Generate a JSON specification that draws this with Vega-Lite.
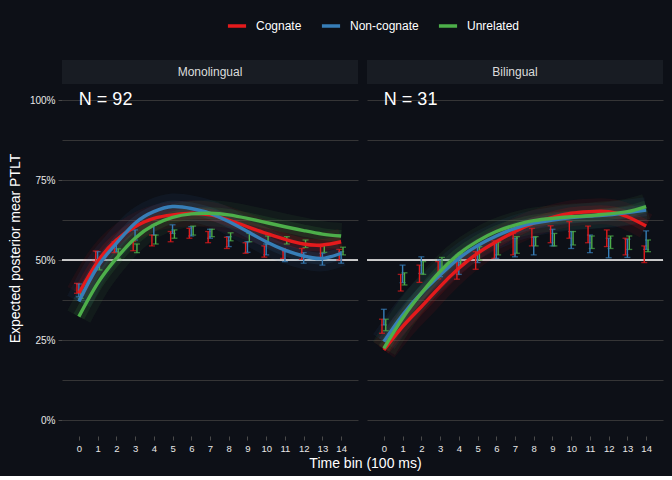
{
  "$schema": "https://vega.github.io/schema/vega-lite/v6.json",
  "background": "#0d1017",
  "padding": {"left": 8, "top": 15, "right": 5, "bottom": 5},
  "bounds": "flush",
  "spacing": 9,
  "datasets": {
    "rows": [
      {"k":"panel","group":"Monolingual","n":"N = 92"},
      {"k":"panel","group":"Bilingual","n":"N = 31"},
      {"k":"pt","group":"Monolingual","cond":"Cognate","t":0,"m":39.6,"lo":39.6,"hi":42.7},
      {"k":"pt","group":"Monolingual","cond":"Cognate","t":1,"m":49.5,"lo":49.5,"hi":52.8},
      {"k":"pt","group":"Monolingual","cond":"Cognate","t":2,"m":56.25,"lo":52.3,"hi":55.7},
      {"k":"pt","group":"Monolingual","cond":"Cognate","t":3,"m":60.4,"lo":52.9,"hi":55.9},
      {"k":"pt","group":"Monolingual","cond":"Cognate","t":4,"m":63.0,"lo":54.4,"hi":57.8},
      {"k":"pt","group":"Monolingual","cond":"Cognate","t":5,"m":64.1,"lo":55.7,"hi":58.9},
      {"k":"pt","group":"Monolingual","cond":"Cognate","t":6,"m":64.6,"lo":56.8,"hi":59.9},
      {"k":"pt","group":"Monolingual","cond":"Cognate","t":7,"m":64.1,"lo":55.4,"hi":58.9},
      {"k":"pt","group":"Monolingual","cond":"Cognate","t":8,"m":62.5,"lo":53.6,"hi":57.1},
      {"k":"pt","group":"Monolingual","cond":"Cognate","t":9,"m":60.4,"lo":52.1,"hi":55.4},
      {"k":"pt","group":"Monolingual","cond":"Cognate","t":10,"m":58.3,"lo":50.9,"hi":54.4},
      {"k":"pt","group":"Monolingual","cond":"Cognate","t":11,"m":56.5,"lo":50.5,"hi":53.6},
      {"k":"pt","group":"Monolingual","cond":"Cognate","t":12,"m":55.0,"lo":50.2,"hi":53.6},
      {"k":"pt","group":"Monolingual","cond":"Cognate","t":13,"m":54.7,"lo":50.8,"hi":54.2},
      {"k":"pt","group":"Monolingual","cond":"Cognate","t":14,"m":55.7,"lo":50.0,"hi":53.3},
      {"k":"pt","group":"Monolingual","cond":"Non-cognate","t":0,"m":37.0,"lo":38.5,"hi":42.5},
      {"k":"pt","group":"Monolingual","cond":"Non-cognate","t":1,"m":47.9,"lo":49.5,"hi":52.6},
      {"k":"pt","group":"Monolingual","cond":"Non-cognate","t":2,"m":55.2,"lo":52.6,"hi":55.7},
      {"k":"pt","group":"Monolingual","cond":"Non-cognate","t":3,"m":61.5,"lo":56.25,"hi":59.4},
      {"k":"pt","group":"Monolingual","cond":"Non-cognate","t":4,"m":65.1,"lo":57.8,"hi":60.9},
      {"k":"pt","group":"Monolingual","cond":"Non-cognate","t":5,"m":66.7,"lo":58.3,"hi":61.0},
      {"k":"pt","group":"Monolingual","cond":"Non-cognate","t":6,"m":66.1,"lo":57.5,"hi":60.4},
      {"k":"pt","group":"Monolingual","cond":"Non-cognate","t":7,"m":64.6,"lo":56.8,"hi":59.6},
      {"k":"pt","group":"Monolingual","cond":"Non-cognate","t":8,"m":62.0,"lo":54.2,"hi":57.3},
      {"k":"pt","group":"Monolingual","cond":"Non-cognate","t":9,"m":58.9,"lo":52.4,"hi":55.7},
      {"k":"pt","group":"Monolingual","cond":"Non-cognate","t":10,"m":55.7,"lo":51.6,"hi":55.0},
      {"k":"pt","group":"Monolingual","cond":"Non-cognate","t":11,"m":53.1,"lo":49.5,"hi":52.6},
      {"k":"pt","group":"Monolingual","cond":"Non-cognate","t":12,"m":51.25,"lo":49.0,"hi":52.3},
      {"k":"pt","group":"Monolingual","cond":"Non-cognate","t":13,"m":50.5,"lo":48.4,"hi":52.1},
      {"k":"pt","group":"Monolingual","cond":"Non-cognate","t":14,"m":52.1,"lo":49.0,"hi":52.6},
      {"k":"pt","group":"Monolingual","cond":"Unrelated","t":0,"m":32.3,"lo":38.0,"hi":40.6},
      {"k":"pt","group":"Monolingual","cond":"Unrelated","t":1,"m":42.7,"lo":46.9,"hi":49.5},
      {"k":"pt","group":"Monolingual","cond":"Unrelated","t":2,"m":50.5,"lo":50.5,"hi":53.5},
      {"k":"pt","group":"Monolingual","cond":"Unrelated","t":3,"m":56.8,"lo":52.3,"hi":55.0},
      {"k":"pt","group":"Monolingual","cond":"Unrelated","t":4,"m":60.9,"lo":55.0,"hi":57.8},
      {"k":"pt","group":"Monolingual","cond":"Unrelated","t":5,"m":63.3,"lo":56.8,"hi":59.4},
      {"k":"pt","group":"Monolingual","cond":"Unrelated","t":6,"m":64.4,"lo":57.8,"hi":60.6},
      {"k":"pt","group":"Monolingual","cond":"Unrelated","t":7,"m":64.6,"lo":57.3,"hi":59.6},
      {"k":"pt","group":"Monolingual","cond":"Unrelated","t":8,"m":64.1,"lo":56.0,"hi":58.5},
      {"k":"pt","group":"Monolingual","cond":"Unrelated","t":9,"m":63.0,"lo":55.7,"hi":58.3},
      {"k":"pt","group":"Monolingual","cond":"Unrelated","t":10,"m":61.7,"lo":55.0,"hi":57.5},
      {"k":"pt","group":"Monolingual","cond":"Unrelated","t":11,"m":60.4,"lo":55.0,"hi":57.3},
      {"k":"pt","group":"Monolingual","cond":"Unrelated","t":12,"m":59.2,"lo":53.9,"hi":56.25},
      {"k":"pt","group":"Monolingual","cond":"Unrelated","t":13,"m":58.1,"lo":52.4,"hi":54.7},
      {"k":"pt","group":"Monolingual","cond":"Unrelated","t":14,"m":57.5,"lo":51.6,"hi":54.0},
      {"k":"pt","group":"Bilingual","cond":"Cognate","t":0,"m":21.9,"lo":27.1,"hi":31.5},
      {"k":"pt","group":"Bilingual","cond":"Cognate","t":1,"m":29.2,"lo":40.3,"hi":45.5},
      {"k":"pt","group":"Bilingual","cond":"Cognate","t":2,"m":35.4,"lo":43.0,"hi":48.4},
      {"k":"pt","group":"Bilingual","cond":"Cognate","t":3,"m":41.7,"lo":44.1,"hi":49.5},
      {"k":"pt","group":"Bilingual","cond":"Cognate","t":4,"m":47.4,"lo":44.0,"hi":49.2},
      {"k":"pt","group":"Bilingual","cond":"Cognate","t":5,"m":52.1,"lo":47.1,"hi":52.6},
      {"k":"pt","group":"Bilingual","cond":"Cognate","t":6,"m":55.7,"lo":50.5,"hi":56.0},
      {"k":"pt","group":"Bilingual","cond":"Cognate","t":7,"m":58.9,"lo":51.6,"hi":58.3},
      {"k":"pt","group":"Bilingual","cond":"Cognate","t":8,"m":61.5,"lo":54.4,"hi":59.9},
      {"k":"pt","group":"Bilingual","cond":"Cognate","t":9,"m":63.3,"lo":55.4,"hi":60.7},
      {"k":"pt","group":"Bilingual","cond":"Cognate","t":10,"m":64.6,"lo":56.8,"hi":62.0},
      {"k":"pt","group":"Bilingual","cond":"Cognate","t":11,"m":65.1,"lo":55.4,"hi":60.6},
      {"k":"pt","group":"Bilingual","cond":"Cognate","t":12,"m":65.1,"lo":54.2,"hi":59.4},
      {"k":"pt","group":"Bilingual","cond":"Cognate","t":13,"m":63.5,"lo":51.6,"hi":56.8},
      {"k":"pt","group":"Bilingual","cond":"Cognate","t":14,"m":60.6,"lo":49.2,"hi":54.4},
      {"k":"pt","group":"Bilingual","cond":"Non-cognate","t":0,"m":24.5,"lo":29.7,"hi":34.6},
      {"k":"pt","group":"Bilingual","cond":"Non-cognate","t":1,"m":32.8,"lo":42.9,"hi":48.4},
      {"k":"pt","group":"Bilingual","cond":"Non-cognate","t":2,"m":39.6,"lo":45.8,"hi":51.0},
      {"k":"pt","group":"Bilingual","cond":"Non-cognate","t":3,"m":45.3,"lo":44.8,"hi":50.0},
      {"k":"pt","group":"Bilingual","cond":"Non-cognate","t":4,"m":50.5,"lo":45.5,"hi":51.6},
      {"k":"pt","group":"Bilingual","cond":"Non-cognate","t":5,"m":54.5,"lo":49.2,"hi":54.0},
      {"k":"pt","group":"Bilingual","cond":"Non-cognate","t":6,"m":57.5,"lo":50.5,"hi":55.7},
      {"k":"pt","group":"Bilingual","cond":"Non-cognate","t":7,"m":59.9,"lo":51.0,"hi":56.8},
      {"k":"pt","group":"Bilingual","cond":"Non-cognate","t":8,"m":61.5,"lo":51.6,"hi":57.1},
      {"k":"pt","group":"Bilingual","cond":"Non-cognate","t":9,"m":62.5,"lo":54.4,"hi":59.6},
      {"k":"pt","group":"Bilingual","cond":"Non-cognate","t":10,"m":63.3,"lo":53.6,"hi":58.9},
      {"k":"pt","group":"Bilingual","cond":"Non-cognate","t":11,"m":63.75,"lo":52.3,"hi":57.8},
      {"k":"pt","group":"Bilingual","cond":"Non-cognate","t":12,"m":64.1,"lo":50.7,"hi":56.8},
      {"k":"pt","group":"Bilingual","cond":"Non-cognate","t":13,"m":64.8,"lo":50.8,"hi":56.5},
      {"k":"pt","group":"Bilingual","cond":"Non-cognate","t":14,"m":65.6,"lo":53.3,"hi":59.1},
      {"k":"pt","group":"Bilingual","cond":"Unrelated","t":0,"m":22.4,"lo":27.9,"hi":31.5},
      {"k":"pt","group":"Bilingual","cond":"Unrelated","t":1,"m":31.8,"lo":42.2,"hi":46.0},
      {"k":"pt","group":"Bilingual","cond":"Unrelated","t":2,"m":39.6,"lo":45.5,"hi":49.5},
      {"k":"pt","group":"Bilingual","cond":"Unrelated","t":3,"m":46.4,"lo":46.9,"hi":50.8},
      {"k":"pt","group":"Bilingual","cond":"Unrelated","t":4,"m":51.9,"lo":48.4,"hi":52.1},
      {"k":"pt","group":"Bilingual","cond":"Unrelated","t":5,"m":55.9,"lo":50.0,"hi":54.2},
      {"k":"pt","group":"Bilingual","cond":"Unrelated","t":6,"m":58.9,"lo":51.6,"hi":55.6},
      {"k":"pt","group":"Bilingual","cond":"Unrelated","t":7,"m":60.9,"lo":52.1,"hi":57.3},
      {"k":"pt","group":"Bilingual","cond":"Unrelated","t":8,"m":62.3,"lo":54.4,"hi":57.3},
      {"k":"pt","group":"Bilingual","cond":"Unrelated","t":9,"m":63.0,"lo":54.4,"hi":58.3},
      {"k":"pt","group":"Bilingual","cond":"Unrelated","t":10,"m":63.5,"lo":54.7,"hi":58.9},
      {"k":"pt","group":"Bilingual","cond":"Unrelated","t":11,"m":63.85,"lo":53.6,"hi":57.5},
      {"k":"pt","group":"Bilingual","cond":"Unrelated","t":12,"m":64.4,"lo":53.6,"hi":57.5},
      {"k":"pt","group":"Bilingual","cond":"Unrelated","t":13,"m":65.1,"lo":53.3,"hi":57.5},
      {"k":"pt","group":"Bilingual","cond":"Unrelated","t":14,"m":66.7,"lo":52.6,"hi":56.25}
    ]
  },
  "data": {"name": "rows"},
  "resolve": {"scale": {"color": "shared"}, "legend": {"color": "shared"}},
  "hconcat": [
    {
      "width": 296,
      "height": 376,
      "transform": [{"filter": "datum.group == 'Monolingual'"}],
      "layer": [
        {
          "transform": [{"filter": "datum.k == 'panel'"}],
          "mark": {"type": "rect", "color": "#181c23"},
          "encoding": {
            "x": {"datum": -0.9, "type": "quantitative", "scale": {"domain": [-0.9, 14.9], "nice": false, "zero": false},
              "axis": {"values": [0,1,2,3,4,5,6,7,8,9,10,11,12,13,14], "tickCount": 15, "labelOverlap": false, "title": "Time bin (100 ms)", "titleX": 303, "titleAlign": "center", "titleAnchor": null, "titleFontSize": 14, "titleColor": "#ffffff", "titleFontWeight": "normal", "titlePadding": 4, "grid": false, "domain": false, "tickColor": "#4a4a4a", "tickSize": 4, "labelFontSize": 9.5, "labelColor": "#e8e8e8", "labelPadding": 3}},
            "x2": {"datum": 14.9},
            "y": {"datum": 105, "type": "quantitative", "scale": {"domain": [-5, 112.5], "nice": false, "zero": false},
              "title": "Expected posterior mear PTLT",
              "axis": {"values": [0,12.5,25,37.5,50,62.5,75,87.5,100], "labelExpr": "datum.value % 25 == 0 ? datum.value + '%' : ''", "titleFontSize": 14, "titleColor": "#ffffff", "titleFontWeight": "normal", "titlePadding": 7, "grid": true, "gridColor": "#3a3a3a", "gridWidth": 0.9, "domain": false, "tickColor": "#4a4a4a", "tickSize": 4, "tickOpacity": {"expr": "datum.value % 25 == 0 ? 1 : 0"}, "labelFontSize": 10, "labelColor": "#e8e8e8", "labelPadding": 3}},
            "y2": {"datum": 112.5}
          }
        },
        {
          "transform": [{"filter": "datum.k == 'panel'"}],
          "mark": {"type": "rule", "color": "#ffffff", "strokeWidth": 1.6},
          "encoding": {"y": {"datum": 50, "type": "quantitative"}}
        },
        {
          "transform": [{"filter": "datum.k == 'pt'"}],
          "mark": {"type": "line", "strokeWidth": 3.4, "interpolate": "natural"},
          "encoding": {
            "x": {"field": "t", "type": "quantitative", "title": "Time bin (100 ms)"},
            "y": {"field": "m", "type": "quantitative", "title": "Expected posterior mear PTLT"},
            "color": {"field": "cond", "type": "nominal",
              "scale": {"domain": ["Cognate", "Non-cognate", "Unrelated"], "range": ["#e41a1c", "#377eb8", "#4daf4a"]},
              "legend": {"orient": "none", "legendX": 164, "legendY": -45, "direction": "horizontal", "title": null, "symbolType": "stroke", "symbolStrokeWidth": 3.5, "symbolSize": 330, "symbolOpacity": 1, "labelFontSize": 12, "labelColor": "#ffffff", "columnPadding": 12, "labelOffset": 8,
                "encode": {"symbols": {"update": {"opacity": {"value": 1}, "strokeWidth": {"value": 3.5}}}}}},
            "opacity": {"value": 0}
          }
        },
        {
          "transform": [{"filter": "datum.k == 'pt'"}],
          "mark": {"type": "line", "strokeWidth": 26, "opacity": 0.075, "interpolate": "natural", "strokeCap": "butt"},
          "encoding": {
            "x": {"field": "t", "type": "quantitative", "title": "Time bin (100 ms)"},
            "y": {"field": "m", "type": "quantitative", "title": "Expected posterior mear PTLT"},
            "color": {"field": "cond", "type": "nominal"}
          }
        },
        {
          "transform": [{"filter": "datum.k == 'pt'"}],
          "mark": {"type": "line", "strokeWidth": 12, "opacity": 0.12, "interpolate": "natural", "strokeCap": "butt"},
          "encoding": {
            "x": {"field": "t", "type": "quantitative", "title": "Time bin (100 ms)"},
            "y": {"field": "m", "type": "quantitative", "title": "Expected posterior mear PTLT"},
            "color": {"field": "cond", "type": "nominal"}
          }
        },
        {
          "transform": [
            {"filter": "datum.k == 'pt'"},
            {"calculate": "datum.t + (datum.cond == 'Cognate' ? -0.1 : (datum.cond == 'Unrelated' ? 0.1 : 0))", "as": "tx"}
          ],
          "mark": {"type": "errorbar", "ticks": {"size": 6, "thickness": 1.3}, "rule": {"strokeWidth": 1.4}},
          "encoding": {
            "x": {"field": "tx", "type": "quantitative", "title": "Time bin (100 ms)"},
            "y": {"field": "lo", "type": "quantitative", "title": "Expected posterior mear PTLT"},
            "y2": {"field": "hi"},
            "color": {"field": "cond", "type": "nominal"}
          }
        },
        {
          "transform": [{"filter": "datum.k == 'pt'"}],
          "mark": {"type": "line", "strokeWidth": 3.4, "interpolate": "natural"},
          "encoding": {
            "x": {"field": "t", "type": "quantitative", "title": "Time bin (100 ms)"},
            "y": {"field": "m", "type": "quantitative", "title": "Expected posterior mear PTLT"},
            "color": {"field": "cond", "type": "nominal"}
          }
        },
        {
          "transform": [{"filter": "datum.k == 'panel'"}],
          "mark": {"type": "text", "fontSize": 12, "color": "#dcdcdc"},
          "encoding": {
            "x": {"datum": 7, "type": "quantitative"},
            "y": {"datum": 108.75, "type": "quantitative"},
            "text": {"field": "group"}
          }
        },
        {
          "transform": [{"filter": "datum.k == 'panel'"}],
          "mark": {"type": "text", "fontSize": 18, "color": "#ffffff", "align": "left", "baseline": "middle"},
          "encoding": {
            "x": {"datum": 0, "type": "quantitative"},
            "y": {"datum": 100, "type": "quantitative"},
            "text": {"field": "n"}
          }
        }
      ]
    },
    {
      "width": 296,
      "height": 376,
      "transform": [{"filter": "datum.group == 'Bilingual'"}],
      "layer": [
        {
          "transform": [{"filter": "datum.k == 'panel'"}],
          "mark": {"type": "rect", "color": "#181c23"},
          "encoding": {
            "x": {"datum": -0.9, "type": "quantitative", "scale": {"domain": [-0.9, 14.9], "nice": false, "zero": false},
              "axis": {"values": [0,1,2,3,4,5,6,7,8,9,10,11,12,13,14], "tickCount": 15, "labelOverlap": false, "title": null, "grid": false, "domain": false, "tickColor": "#4a4a4a", "tickSize": 4, "labelFontSize": 9.5, "labelColor": "#e8e8e8", "labelPadding": 3}},
            "x2": {"datum": 14.9},
            "y": {"datum": 105, "type": "quantitative", "scale": {"domain": [-5, 112.5], "nice": false, "zero": false},
              "axis": {"values": [0,12.5,25,37.5,50,62.5,75,87.5,100], "title": null, "labels": false, "ticks": false, "grid": true, "gridColor": "#3a3a3a", "gridWidth": 0.9, "domain": false}},
            "y2": {"datum": 112.5}
          }
        },
        {
          "transform": [{"filter": "datum.k == 'panel'"}],
          "mark": {"type": "rule", "color": "#ffffff", "strokeWidth": 1.6},
          "encoding": {"y": {"datum": 50, "type": "quantitative"}}
        },
        {
          "transform": [{"filter": "datum.k == 'pt'"}],
          "mark": {"type": "line", "strokeWidth": 26, "opacity": 0.075, "interpolate": "natural", "strokeCap": "butt"},
          "encoding": {
            "x": {"field": "t", "type": "quantitative", "title": null},
            "y": {"field": "m", "type": "quantitative", "title": null},
            "color": {"field": "cond", "type": "nominal"}
          }
        },
        {
          "transform": [{"filter": "datum.k == 'pt'"}],
          "mark": {"type": "line", "strokeWidth": 12, "opacity": 0.12, "interpolate": "natural", "strokeCap": "butt"},
          "encoding": {
            "x": {"field": "t", "type": "quantitative", "title": null},
            "y": {"field": "m", "type": "quantitative", "title": null},
            "color": {"field": "cond", "type": "nominal"}
          }
        },
        {
          "transform": [
            {"filter": "datum.k == 'pt'"},
            {"calculate": "datum.t + (datum.cond == 'Cognate' ? -0.1 : (datum.cond == 'Unrelated' ? 0.1 : 0))", "as": "tx"}
          ],
          "mark": {"type": "errorbar", "ticks": {"size": 6, "thickness": 1.3}, "rule": {"strokeWidth": 1.4}},
          "encoding": {
            "x": {"field": "tx", "type": "quantitative", "title": null},
            "y": {"field": "lo", "type": "quantitative", "title": null},
            "y2": {"field": "hi"},
            "color": {"field": "cond", "type": "nominal"}
          }
        },
        {
          "transform": [{"filter": "datum.k == 'pt'"}],
          "mark": {"type": "line", "strokeWidth": 3.4, "interpolate": "natural"},
          "encoding": {
            "x": {"field": "t", "type": "quantitative", "title": null},
            "y": {"field": "m", "type": "quantitative", "title": null},
            "color": {"field": "cond", "type": "nominal",
              "scale": {"domain": ["Cognate", "Non-cognate", "Unrelated"], "range": ["#e41a1c", "#377eb8", "#4daf4a"]}}
          }
        },
        {
          "transform": [{"filter": "datum.k == 'panel'"}],
          "mark": {"type": "text", "fontSize": 12, "color": "#dcdcdc"},
          "encoding": {
            "x": {"datum": 7, "type": "quantitative"},
            "y": {"datum": 108.75, "type": "quantitative"},
            "text": {"field": "group"}
          }
        },
        {
          "transform": [{"filter": "datum.k == 'panel'"}],
          "mark": {"type": "text", "fontSize": 18, "color": "#ffffff", "align": "left", "baseline": "middle"},
          "encoding": {
            "x": {"datum": 0, "type": "quantitative"},
            "y": {"datum": 100, "type": "quantitative"},
            "text": {"field": "n"}
          }
        }
      ]
    }
  ],
  "config": {
    "font": "Liberation Sans",
    "view": {"stroke": null},
    "axis": {"labelFont": "Liberation Sans", "titleFont": "Liberation Sans"},
    "axisX": {"labelOverlap": false, "tickCount": 15},
    "legend": {"labelFont": "Liberation Sans"}
  }
}
